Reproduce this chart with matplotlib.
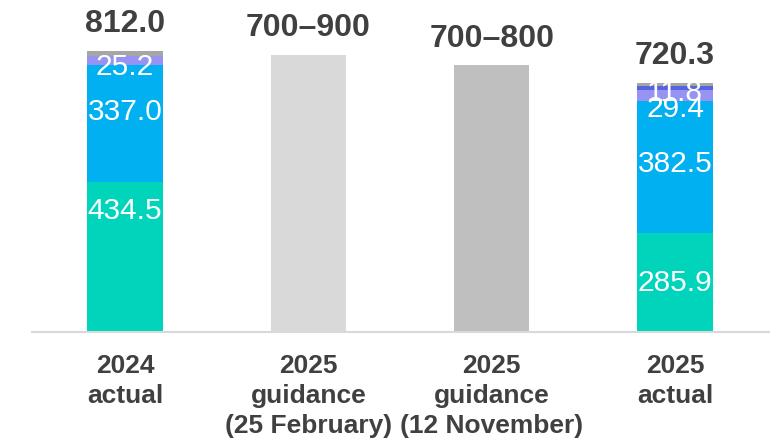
import matplotlib
matplotlib.use("Agg")
import matplotlib.pyplot as plt
import numpy as np

# categories and values
categories = ["2024\nactual", "2025\nguidance\n(25 February)",
              "2025\nguidance\n(12 November)", "2025\nactual"]

actual_2024 = [434.5, 337.0, 25.2]
actual_2025 = [285.9, 382.5, 29.4, 11.8]
total_2024 = 812.0
total_2025 = 720.3

guidance_feb = 800.0
guidance_nov = 770.0
guidance_labels = ["700–900", "700–800"]

seg_colors = ["#00D4BA", "#00B0F0", "#9793F2", "#5563E0"]
rest_color = "#A6A6A6"
text_dark = "#404040"

fig = plt.figure(figsize=(7.7, 4.4), dpi=100)
ax = fig.add_axes([32 / 770, 1 - 332 / 440, 1 - 32 / 770, 332 / 440])

x = np.arange(4)
w = 0.41

# label nudges in points for each stacked segment
nudge_2024 = [33, 8, -5]
nudge_2025 = [0, 2, -10, -3]


def stacked(pos, vals, total, nudges):
    bottom = 0
    for v, c, dy in zip(vals, seg_colors, nudges):
        ax.bar(pos, v, w, bottom=bottom, color=c, linewidth=0)
        ax.annotate(f"{v:.1f}", (pos, bottom + v / 2), xytext=(0, dy),
                    textcoords="offset points", ha="center", va="center",
                    color="white", fontsize=21.5, family="Liberation Sans")
        bottom += v
    ax.bar(pos, total - bottom, w, bottom=bottom, color=rest_color, linewidth=0)


stacked(x[0], actual_2024, total_2024, nudge_2024)
stacked(x[3], actual_2025, total_2025, nudge_2025)
ax.bar(x[1], guidance_feb, w, color="#D9D9D9", linewidth=0)
ax.bar(x[2], guidance_nov, w, color="#BFBFBF", linewidth=0)

tops = [total_2024, guidance_feb, guidance_nov, total_2025]
top_texts = [f"{total_2024:.1f}", guidance_labels[0], guidance_labels[1], f"{total_2025:.1f}"]
for xi, t, s in zip(x, tops, top_texts):
    ax.annotate(s, (xi, t), xytext=(0, 13.5), textcoords="offset points",
                ha="center", va="baseline", fontsize=23, fontweight="bold",
                color=text_dark, family="Liberation Sans")

ax.set_xlim(-0.507, 3.518)
ax.set_ylim(0, 959)
ax.set_xticks(x)
ax.set_xticklabels(categories, fontsize=19, fontweight="bold", color=text_dark,
                   family="Liberation Sans", va="top", linespacing=1.3)
ax.tick_params(axis="x", length=0, pad=16)
ax.set_yticks([])
for s in ["top", "right", "left"]:
    ax.spines[s].set_visible(False)
ax.spines["bottom"].set_color("#D9D9D9")
ax.spines["bottom"].set_linewidth(1.5)
ax.patch.set_visible(False)

fig.savefig("out.png", dpi=100)
